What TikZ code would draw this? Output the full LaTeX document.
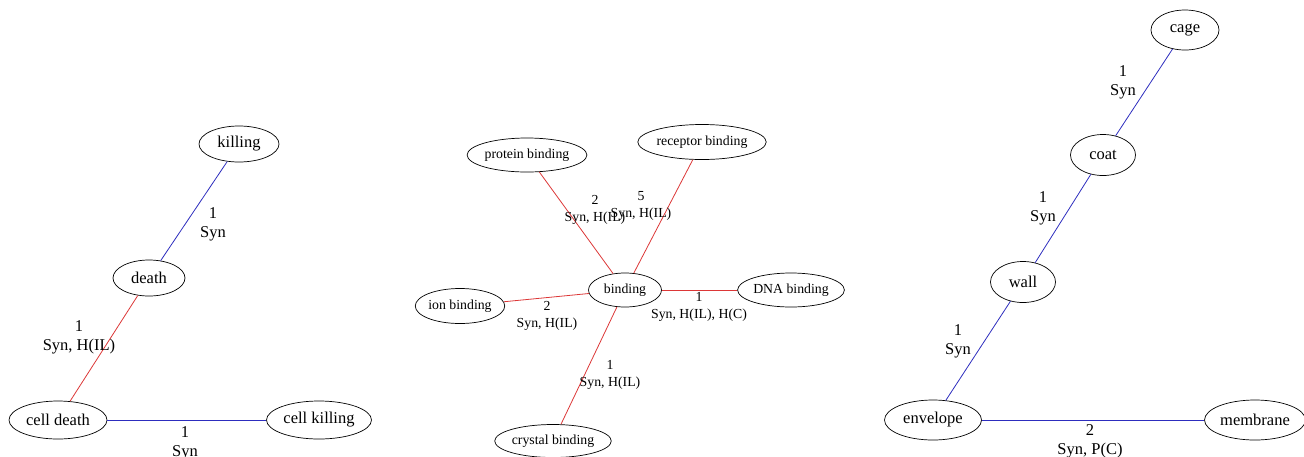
\documentclass[tikz,border=0pt]{standalone}
\usepackage{fontspec}
\setmainfont{Liberation Serif}
\usetikzlibrary{shapes.geometric}
\definecolor{eblue}{RGB}{45,45,190}
\definecolor{ered}{RGB}{220,55,55}
\tikzset{
  vbig/.style={ellipse, draw=black, line width=0.7pt, inner sep=0pt, font=\fontsize{16.5}{19}\selectfont},
  vsmall/.style={ellipse, draw=black, line width=0.7pt, inner sep=0pt, font=\fontsize{13.8}{16.5}\selectfont},
  lbig/.style={align=center, inner sep=0pt, font=\fontsize{16.5}{19}\selectfont},
  lsmall/.style={align=center, inner sep=0pt, font=\fontsize{13.8}{16.5}\selectfont},
  bl/.style={draw=eblue, line width=0.8pt},
  rd/.style={draw=ered, line width=0.8pt}
}
\begin{document}
\begin{tikzpicture}[x=1pt,y=-1pt]
\useasboundingbox (0,0) rectangle (1304,456);
% left graph
\node[vbig, minimum width=80pt, minimum height=36pt] (killing) at (239,144) {killing};
\node[vbig, minimum width=72pt, minimum height=36pt] (death) at (149,278) {death};
\node[vbig, minimum width=98pt, minimum height=38pt] (celldeath) at (58,420) {cell death};
\node[vbig, minimum width=105pt, minimum height=38pt] (cellkilling) at (319,420) {cell killing};
\draw[bl] (killing) -- (death);
\draw[rd] (death) -- (celldeath);
\draw[bl] (celldeath) -- (cellkilling);
\node[lbig] (l1) at (213,224) {1\\Syn};
\node[lbig] (l2) at (79,337) {1\\Syn, H(IL)};
\node[lbig] (l3) at (185,443) {1\\Syn};
% middle graph
\node[vsmall, minimum width=109pt, minimum height=34pt] (protein) at (527,155) {protein binding};
\node[vsmall, minimum width=115pt, minimum height=35pt] (receptor) at (702,142) {receptor binding};
\node[vsmall, minimum width=73pt, minimum height=34pt] (binding) at (625,290) {binding};
\node[vsmall, minimum width=102pt, minimum height=34pt] (dna) at (791,290) {DNA binding};
\node[vsmall, minimum width=88pt, minimum height=35pt] (ion) at (460,306) {ion binding};
\node[vsmall, minimum width=107pt, minimum height=33pt] (crystal) at (553,441) {crystal binding};
\draw[rd] (protein) -- (binding);
\draw[rd] (receptor) -- (binding);
\draw[rd] (ion) -- (binding);
\draw[rd] (binding) -- (dna);
\draw[rd] (binding) -- (crystal);
\node[lsmall] (m1) at (595,210) {2\\Syn, H(IL)};
\node[lsmall] (m2) at (641,206) {5\\Syn, H(IL)};
\node[lsmall] (m3) at (547,316) {2\\Syn, H(IL)};
\node[lsmall] (m4) at (699,307) {1\\Syn, H(IL), H(C)};
\node[lsmall] (m5) at (610,375) {1\\Syn, H(IL)};
% right graph
\node[vbig, minimum width=68pt, minimum height=40pt] (cage) at (1185,30) {cage};
\node[vbig, minimum width=65pt, minimum height=41pt] (coat) at (1103,155) {coat};
\node[vbig, minimum width=65pt, minimum height=41pt] (wall) at (1023,282) {wall};
\node[vbig, minimum width=97pt, minimum height=40pt] (envelope) at (933,420) {envelope};
\node[vbig, minimum width=101pt, minimum height=40pt] (membrane) at (1255,420) {membrane};
\draw[bl] (cage) -- (coat);
\draw[bl] (coat) -- (wall);
\draw[bl] (wall) -- (envelope);
\draw[bl] (envelope) -- (membrane);
\node[lbig] (r1) at (1123,82) {1\\Syn};
\node[lbig] (r2) at (1043,208) {1\\Syn};
\node[lbig] (r3) at (958,341) {1\\Syn};
\node[lbig] (r4) at (1090,441) {2\\Syn, P(C)};
\end{tikzpicture}
\end{document}
